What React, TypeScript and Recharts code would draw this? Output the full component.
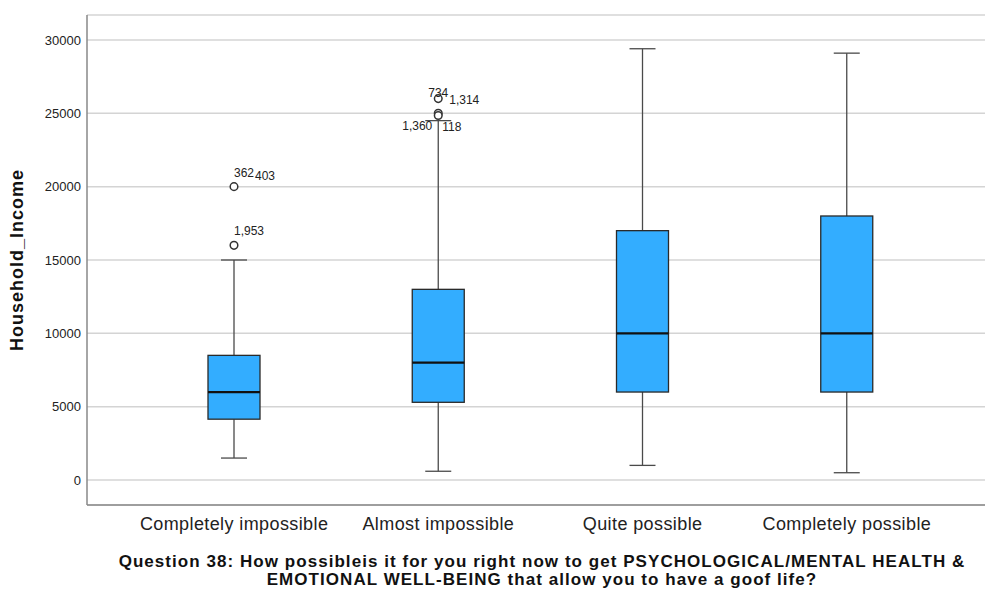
import React from 'react';
import { ComposedChart, Bar, XAxis, YAxis, CartesianGrid } from 'recharts';

const categories = ['Completely impossible', 'Almost impossible', 'Quite possible', 'Completely possible'];
const whiskerLow = [1500, 600, 1000, 500];
const q1Values = [4150, 5300, 6000, 6000];
const medianValues = [6000, 8000, 10000, 10000];
const q3Values = [8500, 13000, 17000, 18000];
const whiskerHigh = [15000, 24500, 29400, 29100];
const outlierValues: number[][] = [[20000, 16000], [26000, 25000, 24850], [], []];
const outlierLabels: string[][][] = [[['362', '403'], ['1,953']], [['734', '1,314'], ['1,360', '118'], []], [], []];
const yTicks = [0, 5000, 10000, 15000, 20000, 25000, 30000];

const data = categories.map((name, i) => ({
  name,
  range: [whiskerLow[i], whiskerHigh[i]],
  low: whiskerLow[i],
  q1: q1Values[i],
  median: medianValues[i],
  q3: q3Values[i],
  high: whiskerHigh[i],
  outliers: outlierValues[i],
  labels: outlierLabels[i],
}));

const LABEL_OFFSETS: Record<string, [number, number, string]> = {
  '362': [0, -10, 'start'],
  '403': [21, -7, 'start'],
  '1,953': [0, -10, 'start'],
  '734': [-10, -2, 'start'],
  '1,314': [11, 5, 'start'],
  '1,360': [-36, 17, 'start'],
  '118': [4, 18, 'start'],
};

const FONT = '"Liberation Sans", Arial, sans-serif';

const BoxShape = (props: any) => {
  const { x, y, width, height, payload } = props;
  const top = Math.min(y, y + height);
  const h = Math.abs(height);
  const lo = payload.low;
  const hi = payload.high;
  const py = (v: number) => top + (h * (hi - v)) / (hi - lo);
  const cx = x + width / 2;
  const capHalf = 13;
  const yq1 = py(payload.q1);
  const yq3 = py(payload.q3);
  const ymed = py(payload.median);
  const items: React.ReactNode[] = [];
  items.push(<line key="wl" x1={cx} x2={cx} y1={py(lo)} y2={yq1} stroke="#4a4a4a" strokeWidth={1.3} />);
  items.push(<line key="wh" x1={cx} x2={cx} y1={py(hi)} y2={yq3} stroke="#4a4a4a" strokeWidth={1.3} />);
  items.push(<line key="cl" x1={cx - capHalf} x2={cx + capHalf} y1={py(lo)} y2={py(lo)} stroke="#4a4a4a" strokeWidth={1.3} />);
  items.push(<line key="ch" x1={cx - capHalf} x2={cx + capHalf} y1={py(hi)} y2={py(hi)} stroke="#4a4a4a" strokeWidth={1.3} />);
  items.push(<rect key="box" x={x} y={yq3} width={width} height={yq1 - yq3} fill="#33adff" stroke="#2a2a2a" strokeWidth={1.3} />);
  items.push(<line key="med" x1={x} x2={x + width} y1={ymed} y2={ymed} stroke="#111" strokeWidth={2.2} />);
  (payload.outliers as number[]).forEach((v, k) => {
    const oy = py(v);
    items.push(<circle key={'o' + k} cx={cx} cy={oy} r={3.8} fill="#fff" stroke="#333" strokeWidth={1.5} />);
    const labs: string[] = payload.labels[k] || [];
    labs.forEach((t, j) => {
      const off = LABEL_OFFSETS[t] || [0, -10, 'start'];
      items.push(
        <text key={'t' + k + '_' + j} x={cx + off[0]} y={oy + off[1]} fontSize={12} fill="#222" fontFamily={FONT} textAnchor={off[2] as any}>
          {t}
        </text>
      );
    });
  });
  return <g>{items}</g>;
};

export default function App() {
  return (
    <div style={{ position: 'absolute', left: 0, top: 0, width: 985, height: 590, background: '#fff' }}>
      <ComposedChart width={985} height={590} data={data} margin={{ top: 15, right: 0, bottom: 55, left: 0 }}>
        <CartesianGrid vertical={false} stroke="#d4d4d4" strokeWidth={1.5} />
        <XAxis
          dataKey="name"
          height={30}
          padding={{ left: 45, right: 36 }}
          tickLine={false}
          axisLine={{ stroke: '#888', strokeWidth: 1.5 }}
          tick={{ fontSize: 18, fill: '#222', fontFamily: FONT, letterSpacing: 0.4 }}
          tickMargin={6}
          interval={0}
        />
        <YAxis
          width={87}
          type="number"
          domain={[-1700, 31700]}
          ticks={yTicks}
          allowDataOverflow
          tickLine={false}
          axisLine={{ stroke: '#888', strokeWidth: 1.5 }}
          tick={{ fontSize: 13, fill: '#222', fontFamily: FONT }}
          tickMargin={0}
          label={{ value: 'Household_Income', angle: -90, position: 'insideLeft', offset: 0, dx: 17, style: { fontSize: 18, fontWeight: 'bold', fill: '#111', fontFamily: FONT, textAnchor: 'middle', letterSpacing: 1 } }}
        />
        <Bar dataKey="range" barSize={52} shape={<BoxShape />} isAnimationActive={false} />
      </ComposedChart>
      <div
        style={{
          position: 'absolute',
          left: 0,
          top: 553,
          width: 1084,
          textAlign: 'center',
          fontFamily: FONT,
          fontWeight: 'bold',
          fontSize: 17,
          letterSpacing: 1.05,
          lineHeight: '18px',
          color: '#111',
        }}
      >
        Question 38: How possibleis it for you right now to get PSYCHOLOGICAL/MENTAL HEALTH &amp;<br />
        EMOTIONAL WELL-BEING that allow you to have a goof life?
      </div>
    </div>
  );
}
